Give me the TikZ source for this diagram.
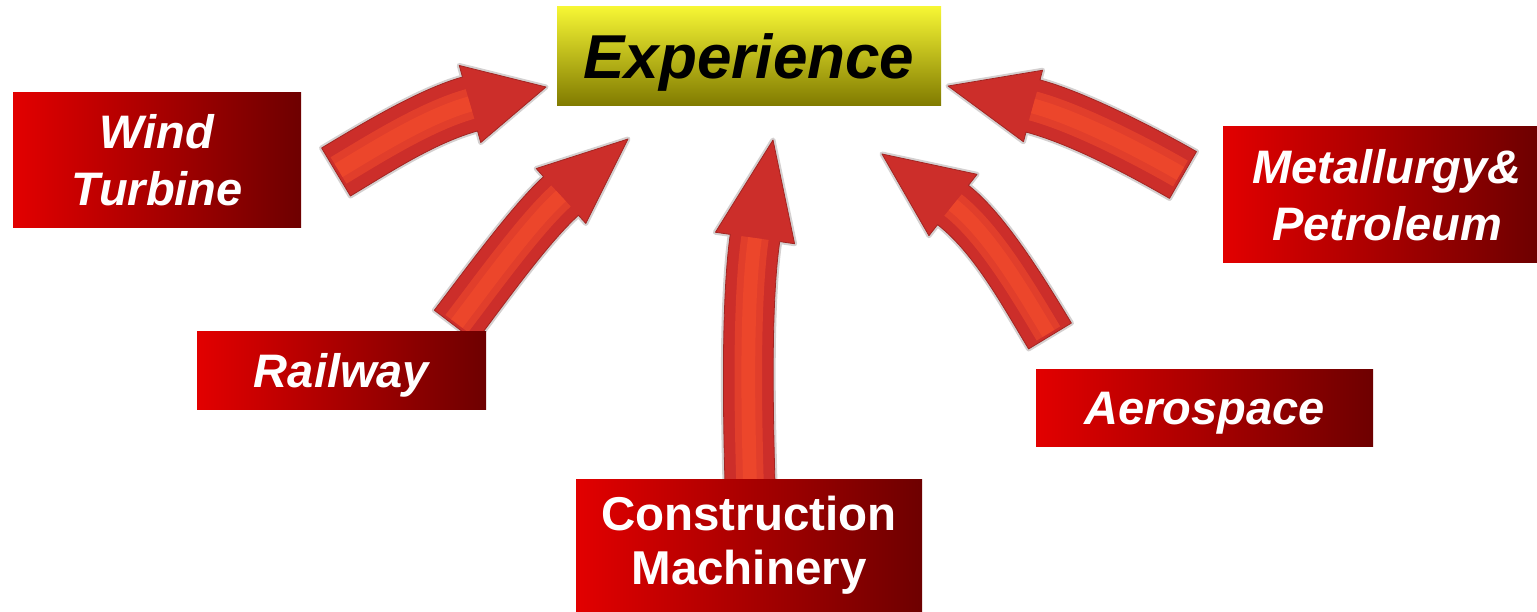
\documentclass[tikz,border=0pt]{standalone}
\usepackage{fontspec}
\setmainfont{Liberation Sans}
\usetikzlibrary{calc}

\definecolor{boxL}{RGB}{226,0,0}
\definecolor{boxR}{RGB}{110,0,0}
\definecolor{yelT}{RGB}{246,246,52}
\definecolor{yelM}{RGB}{222,220,24}
\definecolor{yelB}{RGB}{128,122,0}
\definecolor{arrowRed}{RGB}{204,46,42}
\definecolor{arrowHi}{RGB}{244,76,44}
\definecolor{arrowEdge}{RGB}{212,208,208}

\tikzset{
  redbox/.style={rectangle, inner sep=0pt, left color=boxL, right color=boxR,
    text=white, align=center, font=\bfseries\itshape\fontsize{47}{57}\selectfont},
  yellowbox/.style={rectangle, inner sep=0pt, top color=yelT, middle color=yelM, bottom color=yelB,
    text=black, align=center, font=\bfseries\itshape\fontsize{62}{70}\selectfont},
  onelinebox/.style={text height=34pt, text depth=0pt},
  arrowglow/.style={draw=arrowEdge, line width=5pt, line join=round},
  arrowbody/.style={fill=arrowRed, draw=arrowRed!80!black, line width=0.8pt, line join=round},
}

% #1 S, #2 C1, #3 C2, #4 H, #5 T, #6 half width (number), #7 head half width (number), #8 prefix
\newcommand\fatarrow[8]{%
  \coordinate (#8sl) at ($(#1)!#6pt!90:(#2)$);
  \coordinate (#8sr) at ($(#1)!#6pt!-90:(#2)$);
  \coordinate (#8hl) at ($(#4)!#6pt!-90:(#3)$);
  \coordinate (#8hr) at ($(#4)!#6pt!90:(#3)$);
  \coordinate (#8kl) at ($(#4)!#7pt!-90:(#3)$);
  \coordinate (#8kr) at ($(#4)!#7pt!90:(#3)$);
  \coordinate (#8cl) at ($(#2)+(#8sl)-(#1)$);
  \coordinate (#8cr) at ($(#2)+(#8sr)-(#1)$);
  \coordinate (#8dl) at ($(#3)+(#8hl)-(#4)$);
  \coordinate (#8dr) at ($(#3)+(#8hr)-(#4)$);
  \draw[arrowglow] (#8sl) .. controls (#8cl) and (#8dl) .. (#8hl) -- (#8kl) -- (#5) -- (#8kr) -- (#8hr) .. controls (#8dr) and (#8cr) .. (#8sr) -- cycle;
  \draw[arrowbody] (#8sl) .. controls (#8cl) and (#8dl) .. (#8hl) -- (#8kl) -- (#5) -- (#8kr) -- (#8hr) .. controls (#8dr) and (#8cr) .. (#8sr) -- cycle;
  \draw[arrowHi, line width={1.1*#6pt}, opacity=0.55, shorten <=3pt] (#1) .. controls (#2) and (#3) .. (#4);
  \draw[arrowHi, line width={0.55*#6pt}, opacity=0.6, shorten <=3pt] (#1) .. controls (#2) and (#3) .. (#4);
}

\begin{document}
\begin{tikzpicture}[x=1pt, y=-1pt]
\useasboundingbox (0,0) rectangle (1537,612);

% arrow coordinates
\coordinate (wS) at (336,172); \coordinate (wA) at (376,148);
\coordinate (wB) at (427,116); \coordinate (wH) at (470,104); \coordinate (wT) at (546,87);
\coordinate (rS) at (455,326); \coordinate (rA) at (484,288);
\coordinate (rB) at (530,224); \coordinate (rH) at (561,196); \coordinate (rT) at (628,139);
\coordinate (cS) at (750,484); \coordinate (cA) at (748,410);
\coordinate (cB) at (746,300); \coordinate (cH) at (755,238); \coordinate (cT) at (773,140);
\coordinate (aS) at (1050,336); \coordinate (aA) at (1024,293);
\coordinate (aB) at (990,234); \coordinate (aH) at (953,205); \coordinate (aT) at (882,154);
\coordinate (mS) at (1183,175); \coordinate (mA) at (1143,152);
\coordinate (mB) at (1078,118); \coordinate (mH) at (1033,106); \coordinate (mT) at (948,86);

\fatarrow{wS}{wA}{wB}{wH}{wT}{28}{40}{w}
\fatarrow{rS}{rA}{rB}{rH}{rT}{26}{37}{r}
\fatarrow{cS}{cA}{cB}{cH}{cT}{25}{40}{c}
\fatarrow{aS}{aA}{aB}{aH}{aT}{25}{39}{a}
\fatarrow{mS}{mA}{mB}{mH}{mT}{27}{37}{m}

% boxes
\node[yellowbox, minimum width=384pt, minimum height=99pt, text height=44pt, text depth=0pt] (exp) at (749,56.5) {Experience};
\node[redbox, minimum width=288pt, minimum height=135pt] (wind) at (157,160.5) {Wind\\Turbine};
\node[redbox, onelinebox, minimum width=289pt, minimum height=77pt] (rail) at (341.5,370.5) {Railway};
\node[redbox, minimum width=346pt, minimum height=133pt,
      font=\bfseries\fontsize{47.5}{54}\selectfont] (cons) at (749,545.5) {Construction\\Machinery};
\node[redbox, onelinebox, minimum width=337pt, minimum height=77pt] (aero) at (1204.5,407.5) {Aerospace};
\node[redbox, minimum width=314pt, minimum height=136pt] (met) at (1380,195) {};
\node[text=white, align=center, font=\bfseries\itshape\fontsize{47}{57}\selectfont, inner sep=0pt] (mettext) at ($(met.center)+(7,0)$) {Metallurgy\&\\Petroleum};
\end{tikzpicture}
\end{document}
